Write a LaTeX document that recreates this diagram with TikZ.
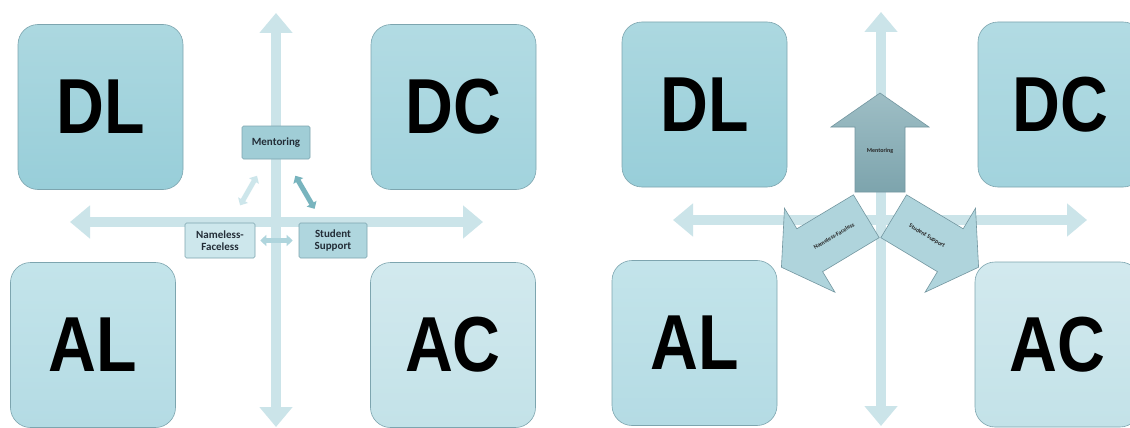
\documentclass[tikz,border=0pt]{standalone}
\usepackage{fontspec}
\setmainfont{Liberation Sans}
\newfontfamily\carl{Carlito}
\usetikzlibrary{arrows.meta,calc}
\definecolor{axiscol}{RGB}{203,228,233}
\definecolor{boxline}{RGB}{125,165,175}
\definecolor{dlTop}{RGB}{172,216,224}
\definecolor{dlBot}{RGB}{152,206,217}
\definecolor{dcTop}{RGB}{178,219,227}
\definecolor{dcBot}{RGB}{162,211,221}
\definecolor{alTop}{RGB}{195,228,234}
\definecolor{alBot}{RGB}{180,219,228}
\definecolor{acTop}{RGB}{210,233,238}
\definecolor{acBot}{RGB}{195,226,232}
\definecolor{mentFill}{RGB}{160,205,214}
\definecolor{nameFill}{RGB}{205,231,236}
\definecolor{studFill}{RGB}{175,214,222}
\definecolor{faintArr}{RGB}{205,230,235}
\definecolor{darkArr}{RGB}{120,180,190}
\definecolor{midArr}{RGB}{175,213,221}
\definecolor{bigSide}{RGB}{175,212,220}
\definecolor{bigUpTop}{RGB}{158,190,197}
\definecolor{bigUpBot}{RGB}{125,164,173}
\definecolor{bigLine}{RGB}{115,150,160}
\definecolor{smalltext}{RGB}{35,45,55}
\tikzset{
  bigbox/.style={draw=boxline, line width=0.6pt, rounded corners=20pt,
    minimum width=165pt, minimum height=165pt, inner sep=0pt,
    font=\fontsize{78}{78}\selectfont\bfseries, text=black},
  axisarrow/.style={draw=axiscol, line width=10pt,
    arrows={Triangle[width=32pt,length=20pt]-Triangle[width=32pt,length=20pt]}},
  smallbox/.style={draw=boxline, line width=0.6pt, rounded corners=1.5pt,
    inner sep=0pt, align=center, text=smalltext,
    font=\carl\bfseries\fontsize{11}{11.5}\selectfont},
  smallarrow/.style={line width=5pt,
    arrows={Triangle[width=11pt,length=6pt]-Triangle[width=11pt,length=6pt]}},
  blockarrow/.style={draw=bigLine, line width=0.6pt, line join=miter},
  arrowtext/.style={font=\carl\bfseries\fontsize{6}{6.5}\selectfont, text=black!85, inner sep=0pt}
}
\begin{document}
\begin{tikzpicture}[x=1pt,y=-1pt]
\clip (0,0) rectangle (1130,428);
\fill[white] (0,0) rectangle (1130,428);

% ================= LEFT PANEL =================
\coordinate (lvT) at (276,13);
\coordinate (lvB) at (276,427);
\coordinate (lhL) at (70,222);
\coordinate (lhR) at (483,222);
\draw[axisarrow] (lvB) -- (lvT);
\draw[axisarrow] (lhL) -- (lhR);

\node[bigbox, top color=dlTop, bottom color=dlBot] (DL1) at (100.5,107) {\scalebox{0.85}[1]{DL}};
\node[bigbox, top color=dcTop, bottom color=dcBot] (DC1) at (453.5,107) {\scalebox{0.85}[1]{DC}};
\node[bigbox, top color=alTop, bottom color=alBot] (AL1) at (93,345) {\scalebox{0.85}[1]{AL}};
\node[bigbox, top color=acTop, bottom color=acBot] (AC1) at (453,345) {\scalebox{0.85}[1]{AC}};

\node[smallbox, fill=mentFill, minimum width=68pt, minimum height=33pt] (M1) at (276,142.5) {Mentoring};
\node[smallbox, fill=nameFill, minimum width=70pt, minimum height=35pt] (N1) at (220,240.5) {Nameless-\\Faceless};
\node[smallbox, fill=studFill, minimum width=68pt, minimum height=35pt] (S1) at (333,240.5) {Student\\Support};

\draw[smallarrow, draw=faintArr, shorten <=20pt, shorten >=19pt] (N1) -- (M1);
\draw[smallarrow, draw=darkArr, shorten <=19pt, shorten >=16pt] (M1) -- (S1);
\draw[smallarrow, draw=midArr, shorten <=5pt, shorten >=6pt] (N1) -- (S1);

% ================= RIGHT PANEL =================
\coordinate (rvT) at (881,12);
\coordinate (rvB) at (881,426);
\coordinate (rhL) at (673,220);
\coordinate (rhR) at (1087,220);
\draw[axisarrow] (rvB) -- (rvT);
\draw[axisarrow] (rhL) -- (rhR);

\node[bigbox, top color=dlTop, bottom color=dlBot] (DL2) at (704.5,104.5) {\scalebox{0.85}[1]{DL}};
\node[bigbox, top color=dcTop, bottom color=dcBot] (DC2) at (1060.5,104.5) {\scalebox{0.85}[1]{DC}};
\node[bigbox, top color=alTop, bottom color=alBot] (AL2) at (694.5,343) {\scalebox{0.85}[1]{AL}};
\node[bigbox, top color=acTop, bottom color=acBot] (AC2) at (1057.5,344.5) {\scalebox{0.85}[1]{AC}};

% block arrows from the centre O=(880,208)
\coordinate (O) at (880,208);
% up arrow (Mentoring)
\draw[blockarrow, top color=bigUpTop, bottom color=bigUpBot]
  (855,192) -- (855,127) -- (831,127) -- (880,93) -- (929,127) -- (905,127) -- (905,192) -- cycle;
% left-down arrow (Nameless-Faceless)
\begin{scope}[shift={(O)}, rotate=211]
  \draw[blockarrow, fill=bigSide]
    (16,25) -- (82,25) -- (82,49) -- (115,0) -- (82,-49) -- (82,-25) -- (16,-25) -- cycle;
\end{scope}
% right-down arrow (Student Support)
\begin{scope}[shift={(O)}, rotate=-31]
  \draw[blockarrow, fill=bigSide]
    (16,25) -- (82,25) -- (82,49) -- (115,0) -- (82,-49) -- (82,-25) -- (16,-25) -- cycle;
\end{scope}

\node[arrowtext] (MT2) at (880,151) {Mentoring};
\node[arrowtext, rotate=31] (NT2) at (834,236) {Nameless-Faceless};
\node[arrowtext, rotate=-31] (ST2) at (927,236) {Student Support};
\end{tikzpicture}
\end{document}
